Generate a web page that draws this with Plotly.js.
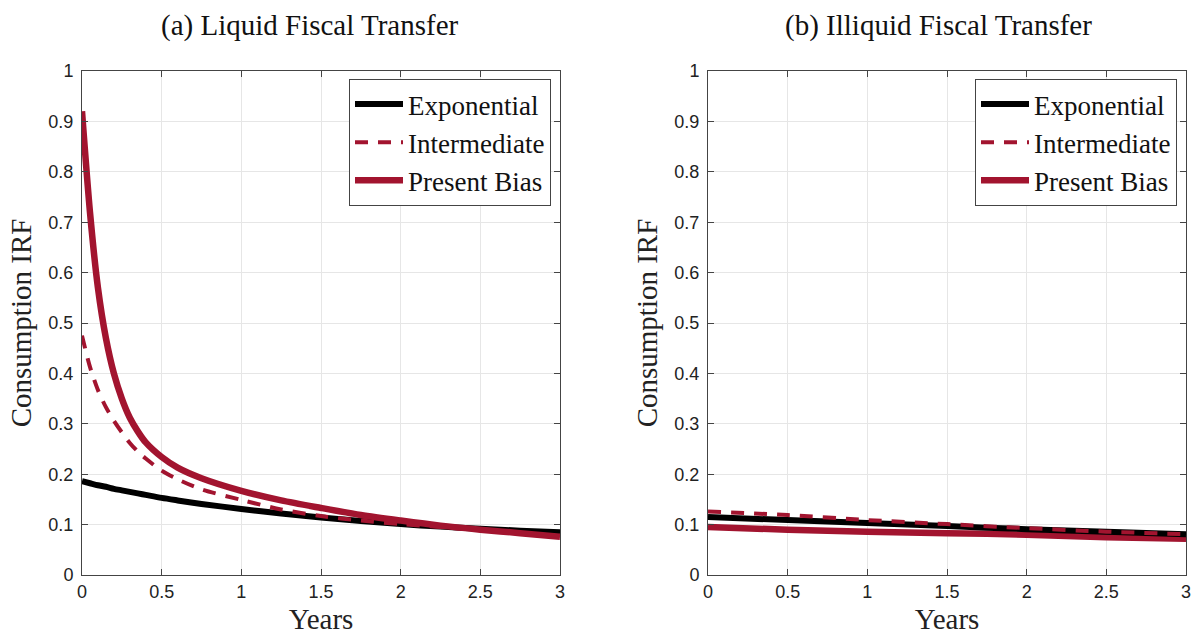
<!DOCTYPE html>
<html>
<head>
<meta charset="utf-8">
<script src="https://cdn.plot.ly/plotly-3.0.1.min.js"></script>
<style>html,body{margin:0;padding:0;background:#fff;}#chart{width:1197px;height:635px;}</style>
</head>
<body>
<div id="chart"></div>
<script>
// ---- Data ----
const years = [0, 0.05, 0.1, 0.15, 0.2, 0.25, 0.3, 0.35, 0.4, 0.5, 0.6, 0.75, 1, 1.25, 1.5, 1.75, 2, 2.25, 2.5, 2.75, 3];

// Panel (a) Liquid fiscal transfer
const liqExponential  = [0.186, 0.182, 0.178, 0.175, 0.171, 0.168, 0.165, 0.162, 0.159, 0.153, 0.148, 0.141, 0.131, 0.122, 0.114, 0.107, 0.101, 0.096, 0.092, 0.088, 0.085];
const liqIntermediate = [0.475, 0.413, 0.367, 0.333, 0.306, 0.283, 0.262, 0.245, 0.231, 0.207, 0.190, 0.170, 0.149, 0.130, 0.117, 0.108, 0.101, 0.095, 0.089, 0.083, 0.077];
const liqPresentBias  = [0.92, 0.72, 0.57, 0.47, 0.40, 0.35, 0.312, 0.285, 0.263, 0.234, 0.213, 0.192, 0.167, 0.148, 0.133, 0.119, 0.108, 0.098, 0.090, 0.083, 0.076];

// Panel (b) Illiquid fiscal transfer
const yearsB = [0, 0.5, 1, 1.5, 2, 2.5, 3];
const illExponential  = [0.115, 0.109, 0.103, 0.097, 0.091, 0.086, 0.081];
const illIntermediate = [0.126, 0.119, 0.109, 0.101, 0.093, 0.086, 0.081];
const illPresentBias  = [0.095, 0.090, 0.086, 0.083, 0.080, 0.075, 0.072];

const seriesNames = ['Exponential', 'Intermediate', 'Present Bias'];
const panelTitles = ['(a) Liquid Fiscal Transfer', '(b) Illiquid Fiscal Transfer'];
const xTicks = [0, 0.5, 1, 1.5, 2, 2.5, 3];
const xTickText = ['0', '0.5', '1', '1.5', '2', '2.5', '3'];
const yTicks = [0, 0.1, 0.2, 0.3, 0.4, 0.5, 0.6, 0.7, 0.8, 0.9, 1];
const yTickText = ['0', '0.1', '0.2', '0.3', '0.4', '0.5', '0.6', '0.7', '0.8', '0.9', '1'];

// ---- Styles ----
const RED = '#A2142F';
const BLACK = '#000000';
const SERIF = '"Liberation Serif", "DejaVu Serif", serif';
const SANS = '"Liberation Sans", Arial, sans-serif';

function mk(x, y, idx, style, xa, ya, leg) {
  return {
    x: x, y: y, name: seriesNames[idx], type: 'scatter', mode: 'lines',
    xaxis: xa, yaxis: ya, legend: leg, showlegend: true, legendrank: idx + 1,
    line: Object.assign({shape: 'spline', smoothing: 0.8}, style),
    hoverinfo: 'x+y+name'
  };
}
const sExp = {color: BLACK, width: 6};
const sInt = {color: RED, width: 4, dash: '13px,10px'};
const sPB  = {color: RED, width: 6.5};

const data = [
  mk(years, liqExponential, 0, sExp, 'x', 'y', 'legend'),
  mk(years, liqIntermediate, 1, sInt, 'x', 'y', 'legend'),
  mk(years, liqPresentBias, 2, sPB, 'x', 'y', 'legend'),
  mk(yearsB, illPresentBias, 2, sPB, 'x2', 'y2', 'legend2'),
  mk(yearsB, illExponential, 0, sExp, 'x2', 'y2', 'legend2'),
  mk(yearsB, illIntermediate, 1, sInt, 'x2', 'y2', 'legend2')
];

function xAxis(domain, anchor) {
  return {
    domain: domain, anchor: anchor, range: [0, 3], tickvals: xTicks, ticktext: xTickText,
    ticks: 'inside', ticklen: 6, tickcolor: '#444', tickwidth: 1,
    showline: true, linecolor: '#444', linewidth: 1, mirror: 'ticks',
    showgrid: true, gridcolor: '#e6e6e6', gridwidth: 1, zeroline: false,
    tickfont: {family: SANS, size: 18, color: '#222'},
    title: {text: 'Years', font: {family: SERIF, size: 29, color: '#222'}, standoff: 8}
  };
}
function yAxis(domain, anchor) {
  return {
    domain: domain, anchor: anchor, range: [0, 1], tickvals: yTicks, ticktext: yTickText,
    ticks: 'inside', ticklen: 6, tickcolor: '#444', tickwidth: 1,
    showline: true, linecolor: '#444', linewidth: 1, mirror: 'ticks',
    showgrid: true, gridcolor: '#e6e6e6', gridwidth: 1, zeroline: false,
    tickfont: {family: SANS, size: 18, color: '#222'}, ticklabelstandoff: 4,
    title: {text: 'Consumption IRF', font: {family: SERIF, size: 29, color: '#222'}, standoff: 8}
  };
}
const legStyle = {
  xanchor: 'right', yanchor: 'top', bgcolor: '#ffffff', bordercolor: '#444', borderwidth: 1,
  font: {family: SERIF, size: 27, color: '#111'}, itemwidth: 48, tracegroupgap: 0,
  traceorder: 'normal'
};

const yDom = [60 / 635, 564 / 635];
const layout = {
  width: 1197, height: 635,
  margin: {l: 0, r: 0, t: 0, b: 0},
  paper_bgcolor: '#ffffff', plot_bgcolor: '#ffffff',
  xaxis: xAxis([82 / 1197, 560 / 1197], 'y'),
  yaxis: yAxis(yDom, 'x'),
  xaxis2: xAxis([708 / 1197, 1186 / 1197], 'y2'),
  yaxis2: yAxis(yDom, 'x2'),
  legend: Object.assign({x: 551 / 1197, y: 556 / 635}, legStyle),
  legend2: Object.assign({x: 1177 / 1197, y: 556 / 635}, legStyle),
  annotations: [
    {text: panelTitles[0], xref: 'paper', yref: 'paper', x: 310 / 1197, y: 610 / 635,
     xanchor: 'center', yanchor: 'middle', showarrow: false, font: {family: SERIF, size: 29, color: '#111'}},
    {text: panelTitles[1], xref: 'paper', yref: 'paper', x: 938 / 1197, y: 610 / 635,
     xanchor: 'center', yanchor: 'middle', showarrow: false, font: {family: SERIF, size: 29, color: '#111'}}
  ]
};

Plotly.newPlot('chart', data, layout, {displayModeBar: false, responsive: false});
</script>
</body>
</html>
